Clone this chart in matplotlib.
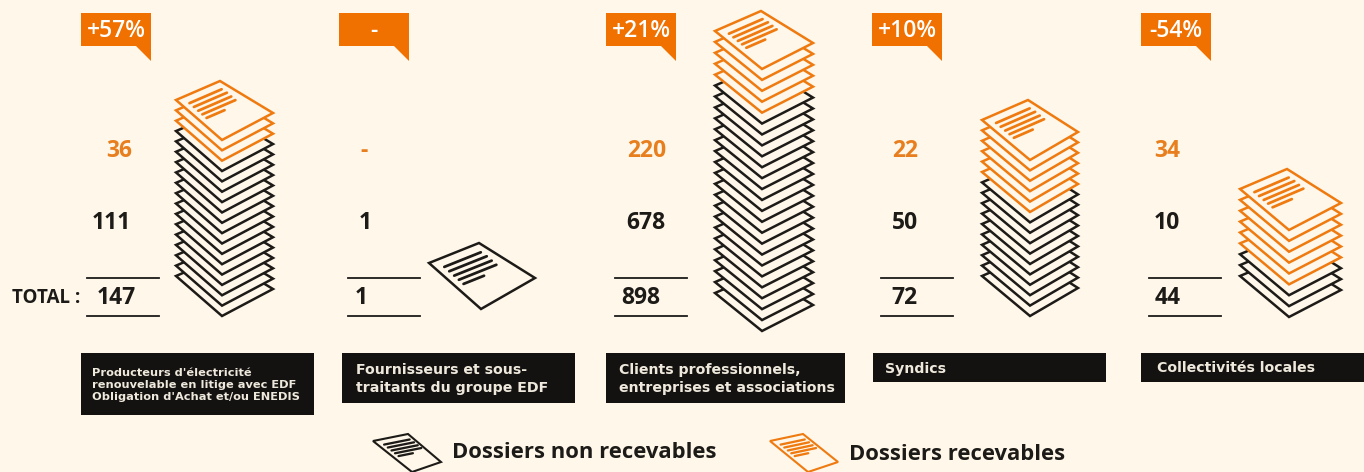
import matplotlib
matplotlib.use("Agg")
import matplotlib.pyplot as plt
from matplotlib.patches import Polygon

plt.rcParams["font.family"] = ["Open Sans", "DejaVu Sans"]

BG = "#FFF7EA"
ORANGE = "#EE7A10"
TAG_ORANGE = "#F07000"
BLACK = "#1D1B18"
BOX_BLACK = "#141210"

# chart values
changes = ["+57%", "-", "+21%", "+10%", "-54%"]
recevables = ["36", "-", "220", "22", "34"]
non_recevables = ["111", "1", "678", "50", "10"]
totals = ["147", "1", "898", "72", "44"]
categories = [
    "Producteurs d'électricité\nrenouvelable en litige avec EDF\nObligation d'Achat et/ou ENEDIS",
    "Fournisseurs et sous-\ntraitants du groupe EDF",
    "Clients professionnels,\nentreprises et associations",
    "Syndics",
    "Collectivités locales",
]
orange_sheets = [3, 0, 5, 6, 6]
black_sheets = [15, 1, 20, 10, 3]

# layout, in pixels of the picture
tag_x = [81, 339, 606, 872, 1141]
rule_x = [87, 348, 615, 881, 1149]
rec_x = [119, 364, 647, 905, 1167]
non_x = [111, 365, 646, 905, 1167]
tot_x = [116, 361, 641, 904, 1168]
box_x = [81, 342, 606, 873, 1141]
box_w = [233, 233, 239, 233, 223]
box_bottom = [415, 403, 403, 382, 382]
cat_x = [92, 356, 619, 885, 1157]
cat_size = [8.2, 10.2, 10.2, 10.2, 10.2]
# left, top, right, bottom corner of the top sheet
top_sheet = [
    ((176, 100), (220, 81), (273, 113), (222, 140)),
    ((429, 263), (479, 243), (535, 278), (481, 309)),
    ((715, 31), (761, 11), (813, 43), (762, 69)),
    ((982, 120), (1028, 100), (1078, 132), (1030, 160)),
    ((1240, 189), (1287, 169), (1341, 203), (1289, 230)),
]
stack_bottom = [316, 309, 331, 316, 317]


def draw_sheet(ax, corners, color, dy=0, lines=False, lw=1.8):
    pts = [(x, y + dy) for x, y in corners]
    ax.add_patch(Polygon(pts, closed=True, facecolor=BG, edgecolor=color,
                         linewidth=lw, joinstyle="miter"))
    if lines:
        left, top, right, bottom = pts
        ux, uy = top[0] - left[0], top[1] - left[1]
        vx, vy = bottom[0] - left[0], bottom[1] - left[1]
        for b, end in zip([0.15, 0.245, 0.34, 0.43, 0.52], [0.88, 0.9, 0.9, 0.9, 0.56]):
            x0, y0 = left[0] + 0.15 * ux + b * vx, left[1] + 0.15 * uy + b * vy
            x1, y1 = left[0] + end * ux + b * vx, left[1] + end * uy + b * vy
            ax.plot([x0, x1], [y0, y1], color=color, lw=lw * 1.1, solid_capstyle="round")


def draw_stack(ax, corners, n_orange, n_black, bottom):
    n = n_orange + n_black
    step = (bottom - corners[3][1]) / (n - 1) if n > 1 else 0
    # painted from the lowest sheet up so upper sheets hide the ones below
    for i in range(n - 1, -1, -1):
        color = ORANGE if i < n_orange else BLACK
        draw_sheet(ax, corners, color, dy=i * step, lines=(i == 0))


fig = plt.figure(figsize=(13.64, 4.72), dpi=100, facecolor=BG)
ax = fig.add_axes([0, 0, 1, 1])
ax.set_xlim(0, 1364)
ax.set_ylim(472, 0)
ax.axis("off")

for i in range(len(categories)):
    x = tag_x[i]
    ax.add_patch(Polygon([(x, 13), (x + 70, 13), (x + 70, 61), (x + 55, 46), (x, 46)],
                         closed=True, facecolor=TAG_ORANGE, edgecolor="none"))
    ax.text(x + 35, 31, changes[i], color="white", fontsize=16.5, fontweight="semibold",
            ha="center", va="center")

    ax.text(rec_x[i], 151, recevables[i], color="#E87F1E", fontsize=16.5, fontweight="bold",
            ha="center", va="center")
    ax.text(non_x[i], 223, non_recevables[i], color=BLACK, fontsize=16.5, fontweight="bold",
            ha="center", va="center")
    ax.text(tot_x[i], 298, totals[i], color=BLACK, fontsize=16.5, fontweight="bold",
            ha="center", va="center")
    ax.plot([rule_x[i], rule_x[i] + 72], [278, 278], color=BLACK, lw=1.3)
    ax.plot([rule_x[i], rule_x[i] + 72], [316, 316], color=BLACK, lw=1.3)

    draw_stack(ax, top_sheet[i], orange_sheets[i], black_sheets[i], stack_bottom[i])

    ax.add_patch(Polygon([(box_x[i], 353), (box_x[i] + box_w[i], 353),
                          (box_x[i] + box_w[i], box_bottom[i]), (box_x[i], box_bottom[i])],
                         closed=True, facecolor=BOX_BLACK, edgecolor="none"))
    ax.text(cat_x[i], (353 + box_bottom[i]) / 2 + 1, categories[i], color="#EFE9DD",
            fontsize=cat_size[i], fontweight="bold", family="DejaVu Sans",
            ha="left", va="center", linespacing=1.3)

ax.text(12, 298, "TOTAL :", color=BLACK, fontsize=13.5, fontweight="bold", ha="left", va="center")

# legend
draw_sheet(ax, ((373, 441), (408, 434), (441, 462), (412, 472)), BLACK, lines=True, lw=1.5)
ax.text(452, 453, "Dossiers non recevables", color=BLACK, fontsize=15.8, fontweight="bold",
        ha="left", va="center")
draw_sheet(ax, ((770, 441), (803, 434), (838, 462), (808, 472)), ORANGE, lines=True, lw=1.5)
ax.text(849, 455, "Dossiers recevables", color=BLACK, fontsize=15.8, fontweight="bold",
        ha="left", va="center")

fig.savefig("out.png", dpi=100, facecolor=BG)
plt.close(fig)
